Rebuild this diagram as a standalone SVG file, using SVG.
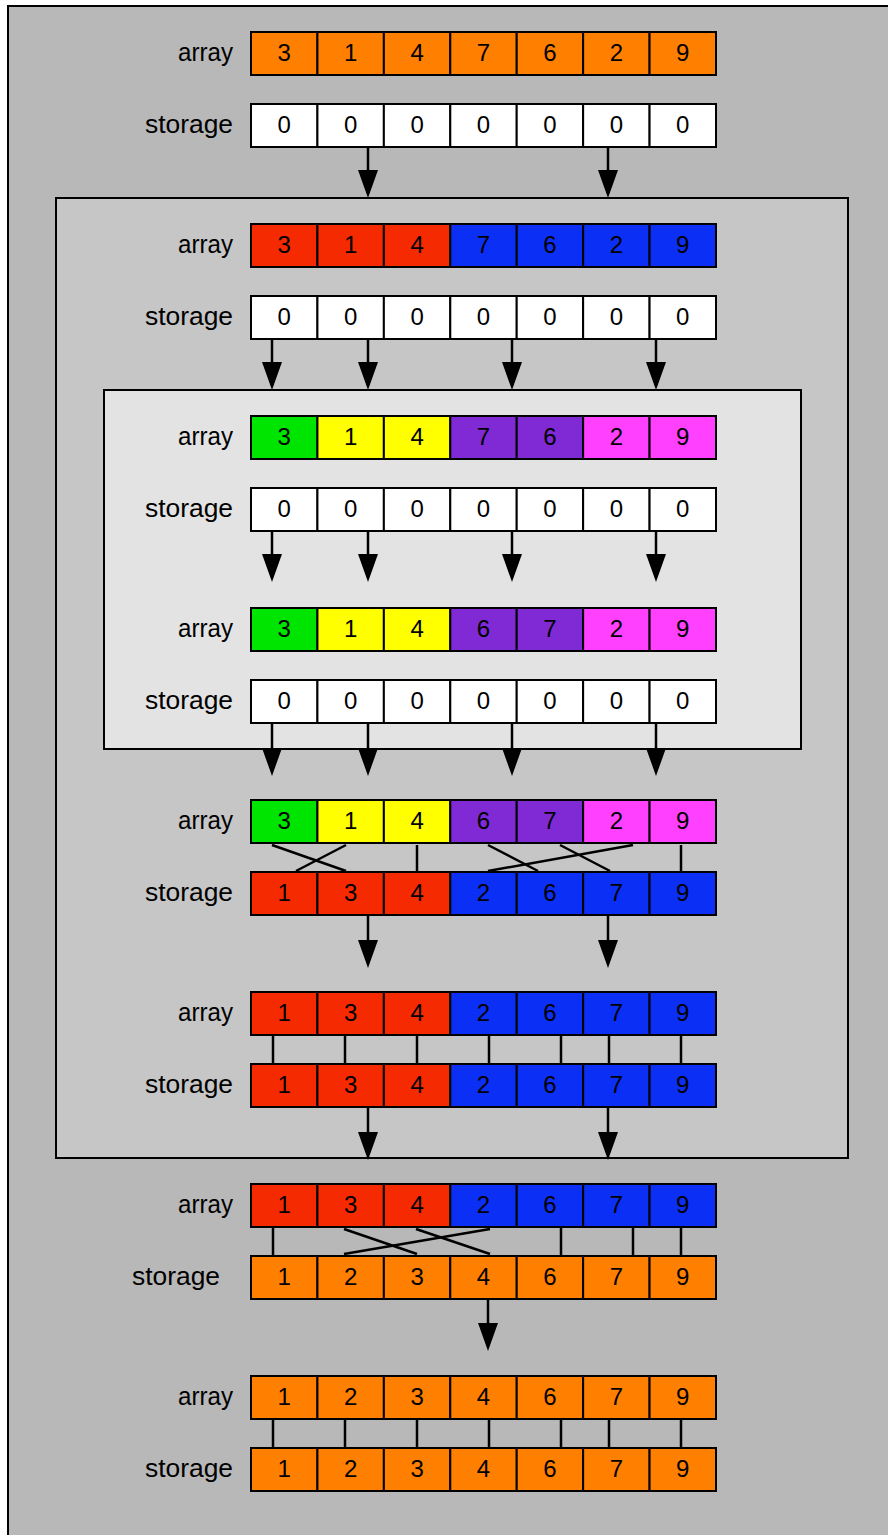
<svg xmlns="http://www.w3.org/2000/svg" width="888" height="1535" viewBox="0 0 888 1535">
<style>
.c{stroke:#000;stroke-width:2}
.o{fill:#ff7f00}.w{fill:#fff}.r{fill:#f52a00}.b{fill:#0b2ff5}.g{fill:#00e500}.y{fill:#ffff00}.p{fill:#7f2ad5}.m{fill:#ff40ff}
.v{font-family:"Liberation Sans",Arial,sans-serif;font-size:24px;text-anchor:middle;fill:#000}
.l{font-family:"Liberation Sans",Arial,sans-serif;font-size:25px;text-anchor:end;fill:#000}
.k{stroke:#000;stroke-width:2.5;fill:none}
</style>
<defs>
<marker id="ah" markerUnits="userSpaceOnUse" markerWidth="28" markerHeight="20" viewBox="0 -10 28 20" refX="0" refY="0" orient="auto"><path d="M0,-10 L28,0 L0,10 z" fill="#000"/></marker>
</defs>
<rect x="8" y="6" width="900" height="1560" fill="#b8b8b8" stroke="#000" stroke-width="2"/>
<rect id="box-level1" x="56" y="198" width="792" height="960" fill="#c6c6c6" stroke="#000" stroke-width="2"/>
<rect id="box-level2" x="104" y="390" width="697" height="359" fill="#e3e3e3" stroke="#000" stroke-width="2"/>

<g id="row-a1">
<text class="l" x="233" y="61" textLength="55" lengthAdjust="spacingAndGlyphs">array</text>
<rect class="c o" x="251" y="32" width="66.43" height="43"/><rect class="c o" x="317.43" y="32" width="66.43" height="43"/><rect class="c o" x="383.86" y="32" width="66.43" height="43"/><rect class="c o" x="450.29" y="32" width="66.43" height="43"/><rect class="c o" x="516.71" y="32" width="66.43" height="43"/><rect class="c o" x="583.14" y="32" width="66.43" height="43"/><rect class="c o" x="649.57" y="32" width="66.43" height="43"/>
<text class="v" x="284.2" y="61">3</text><text class="v" x="350.6" y="61">1</text><text class="v" x="417.1" y="61">4</text><text class="v" x="483.5" y="61">7</text><text class="v" x="549.9" y="61">6</text><text class="v" x="616.4" y="61">2</text><text class="v" x="682.8" y="61">9</text>
</g>
<g id="row-s1">
<text class="l" x="233" y="133" textLength="88" lengthAdjust="spacingAndGlyphs">storage</text>
<rect class="c w" x="251" y="104" width="66.43" height="43"/><rect class="c w" x="317.43" y="104" width="66.43" height="43"/><rect class="c w" x="383.86" y="104" width="66.43" height="43"/><rect class="c w" x="450.29" y="104" width="66.43" height="43"/><rect class="c w" x="516.71" y="104" width="66.43" height="43"/><rect class="c w" x="583.14" y="104" width="66.43" height="43"/><rect class="c w" x="649.57" y="104" width="66.43" height="43"/>
<text class="v" x="284.2" y="133">0</text><text class="v" x="350.6" y="133">0</text><text class="v" x="417.1" y="133">0</text><text class="v" x="483.5" y="133">0</text><text class="v" x="549.9" y="133">0</text><text class="v" x="616.4" y="133">0</text><text class="v" x="682.8" y="133">0</text>
</g>

<g id="row-a2">
<text class="l" x="233" y="253" textLength="55" lengthAdjust="spacingAndGlyphs">array</text>
<rect class="c r" x="251" y="224" width="66.43" height="43"/><rect class="c r" x="317.43" y="224" width="66.43" height="43"/><rect class="c r" x="383.86" y="224" width="66.43" height="43"/><rect class="c b" x="450.29" y="224" width="66.43" height="43"/><rect class="c b" x="516.71" y="224" width="66.43" height="43"/><rect class="c b" x="583.14" y="224" width="66.43" height="43"/><rect class="c b" x="649.57" y="224" width="66.43" height="43"/>
<text class="v" x="284.2" y="253">3</text><text class="v" x="350.6" y="253">1</text><text class="v" x="417.1" y="253">4</text><text class="v" x="483.5" y="253">7</text><text class="v" x="549.9" y="253">6</text><text class="v" x="616.4" y="253">2</text><text class="v" x="682.8" y="253">9</text>
</g>
<g id="row-s2">
<text class="l" x="233" y="325" textLength="88" lengthAdjust="spacingAndGlyphs">storage</text>
<rect class="c w" x="251" y="296" width="66.43" height="43"/><rect class="c w" x="317.43" y="296" width="66.43" height="43"/><rect class="c w" x="383.86" y="296" width="66.43" height="43"/><rect class="c w" x="450.29" y="296" width="66.43" height="43"/><rect class="c w" x="516.71" y="296" width="66.43" height="43"/><rect class="c w" x="583.14" y="296" width="66.43" height="43"/><rect class="c w" x="649.57" y="296" width="66.43" height="43"/>
<text class="v" x="284.2" y="325">0</text><text class="v" x="350.6" y="325">0</text><text class="v" x="417.1" y="325">0</text><text class="v" x="483.5" y="325">0</text><text class="v" x="549.9" y="325">0</text><text class="v" x="616.4" y="325">0</text><text class="v" x="682.8" y="325">0</text>
</g>

<g id="row-a3">
<text class="l" x="233" y="445" textLength="55" lengthAdjust="spacingAndGlyphs">array</text>
<rect class="c g" x="251" y="416" width="66.43" height="43"/><rect class="c y" x="317.43" y="416" width="66.43" height="43"/><rect class="c y" x="383.86" y="416" width="66.43" height="43"/><rect class="c p" x="450.29" y="416" width="66.43" height="43"/><rect class="c p" x="516.71" y="416" width="66.43" height="43"/><rect class="c m" x="583.14" y="416" width="66.43" height="43"/><rect class="c m" x="649.57" y="416" width="66.43" height="43"/>
<text class="v" x="284.2" y="445">3</text><text class="v" x="350.6" y="445">1</text><text class="v" x="417.1" y="445">4</text><text class="v" x="483.5" y="445">7</text><text class="v" x="549.9" y="445">6</text><text class="v" x="616.4" y="445">2</text><text class="v" x="682.8" y="445">9</text>
</g>
<g id="row-s3">
<text class="l" x="233" y="517" textLength="88" lengthAdjust="spacingAndGlyphs">storage</text>
<rect class="c w" x="251" y="488" width="66.43" height="43"/><rect class="c w" x="317.43" y="488" width="66.43" height="43"/><rect class="c w" x="383.86" y="488" width="66.43" height="43"/><rect class="c w" x="450.29" y="488" width="66.43" height="43"/><rect class="c w" x="516.71" y="488" width="66.43" height="43"/><rect class="c w" x="583.14" y="488" width="66.43" height="43"/><rect class="c w" x="649.57" y="488" width="66.43" height="43"/>
<text class="v" x="284.2" y="517">0</text><text class="v" x="350.6" y="517">0</text><text class="v" x="417.1" y="517">0</text><text class="v" x="483.5" y="517">0</text><text class="v" x="549.9" y="517">0</text><text class="v" x="616.4" y="517">0</text><text class="v" x="682.8" y="517">0</text>
</g>

<g id="row-a4">
<text class="l" x="233" y="637" textLength="55" lengthAdjust="spacingAndGlyphs">array</text>
<rect class="c g" x="251" y="608" width="66.43" height="43"/><rect class="c y" x="317.43" y="608" width="66.43" height="43"/><rect class="c y" x="383.86" y="608" width="66.43" height="43"/><rect class="c p" x="450.29" y="608" width="66.43" height="43"/><rect class="c p" x="516.71" y="608" width="66.43" height="43"/><rect class="c m" x="583.14" y="608" width="66.43" height="43"/><rect class="c m" x="649.57" y="608" width="66.43" height="43"/>
<text class="v" x="284.2" y="637">3</text><text class="v" x="350.6" y="637">1</text><text class="v" x="417.1" y="637">4</text><text class="v" x="483.5" y="637">6</text><text class="v" x="549.9" y="637">7</text><text class="v" x="616.4" y="637">2</text><text class="v" x="682.8" y="637">9</text>
</g>
<g id="row-s4">
<text class="l" x="233" y="709" textLength="88" lengthAdjust="spacingAndGlyphs">storage</text>
<rect class="c w" x="251" y="680" width="66.43" height="43"/><rect class="c w" x="317.43" y="680" width="66.43" height="43"/><rect class="c w" x="383.86" y="680" width="66.43" height="43"/><rect class="c w" x="450.29" y="680" width="66.43" height="43"/><rect class="c w" x="516.71" y="680" width="66.43" height="43"/><rect class="c w" x="583.14" y="680" width="66.43" height="43"/><rect class="c w" x="649.57" y="680" width="66.43" height="43"/>
<text class="v" x="284.2" y="709">0</text><text class="v" x="350.6" y="709">0</text><text class="v" x="417.1" y="709">0</text><text class="v" x="483.5" y="709">0</text><text class="v" x="549.9" y="709">0</text><text class="v" x="616.4" y="709">0</text><text class="v" x="682.8" y="709">0</text>
</g>

<g id="row-a5">
<text class="l" x="233" y="829" textLength="55" lengthAdjust="spacingAndGlyphs">array</text>
<rect class="c g" x="251" y="800" width="66.43" height="43"/><rect class="c y" x="317.43" y="800" width="66.43" height="43"/><rect class="c y" x="383.86" y="800" width="66.43" height="43"/><rect class="c p" x="450.29" y="800" width="66.43" height="43"/><rect class="c p" x="516.71" y="800" width="66.43" height="43"/><rect class="c m" x="583.14" y="800" width="66.43" height="43"/><rect class="c m" x="649.57" y="800" width="66.43" height="43"/>
<text class="v" x="284.2" y="829">3</text><text class="v" x="350.6" y="829">1</text><text class="v" x="417.1" y="829">4</text><text class="v" x="483.5" y="829">6</text><text class="v" x="549.9" y="829">7</text><text class="v" x="616.4" y="829">2</text><text class="v" x="682.8" y="829">9</text>
</g>
<g id="row-s5">
<text class="l" x="233" y="901" textLength="88" lengthAdjust="spacingAndGlyphs">storage</text>
<rect class="c r" x="251" y="872" width="66.43" height="43"/><rect class="c r" x="317.43" y="872" width="66.43" height="43"/><rect class="c r" x="383.86" y="872" width="66.43" height="43"/><rect class="c b" x="450.29" y="872" width="66.43" height="43"/><rect class="c b" x="516.71" y="872" width="66.43" height="43"/><rect class="c b" x="583.14" y="872" width="66.43" height="43"/><rect class="c b" x="649.57" y="872" width="66.43" height="43"/>
<text class="v" x="284.2" y="901">1</text><text class="v" x="350.6" y="901">3</text><text class="v" x="417.1" y="901">4</text><text class="v" x="483.5" y="901">2</text><text class="v" x="549.9" y="901">6</text><text class="v" x="616.4" y="901">7</text><text class="v" x="682.8" y="901">9</text>
</g>

<g id="row-a6">
<text class="l" x="233" y="1021" textLength="55" lengthAdjust="spacingAndGlyphs">array</text>
<rect class="c r" x="251" y="992" width="66.43" height="43"/><rect class="c r" x="317.43" y="992" width="66.43" height="43"/><rect class="c r" x="383.86" y="992" width="66.43" height="43"/><rect class="c b" x="450.29" y="992" width="66.43" height="43"/><rect class="c b" x="516.71" y="992" width="66.43" height="43"/><rect class="c b" x="583.14" y="992" width="66.43" height="43"/><rect class="c b" x="649.57" y="992" width="66.43" height="43"/>
<text class="v" x="284.2" y="1021">1</text><text class="v" x="350.6" y="1021">3</text><text class="v" x="417.1" y="1021">4</text><text class="v" x="483.5" y="1021">2</text><text class="v" x="549.9" y="1021">6</text><text class="v" x="616.4" y="1021">7</text><text class="v" x="682.8" y="1021">9</text>
</g>
<g id="row-s6">
<text class="l" x="233" y="1093" textLength="88" lengthAdjust="spacingAndGlyphs">storage</text>
<rect class="c r" x="251" y="1064" width="66.43" height="43"/><rect class="c r" x="317.43" y="1064" width="66.43" height="43"/><rect class="c r" x="383.86" y="1064" width="66.43" height="43"/><rect class="c b" x="450.29" y="1064" width="66.43" height="43"/><rect class="c b" x="516.71" y="1064" width="66.43" height="43"/><rect class="c b" x="583.14" y="1064" width="66.43" height="43"/><rect class="c b" x="649.57" y="1064" width="66.43" height="43"/>
<text class="v" x="284.2" y="1093">1</text><text class="v" x="350.6" y="1093">3</text><text class="v" x="417.1" y="1093">4</text><text class="v" x="483.5" y="1093">2</text><text class="v" x="549.9" y="1093">6</text><text class="v" x="616.4" y="1093">7</text><text class="v" x="682.8" y="1093">9</text>
</g>

<g id="row-a7">
<text class="l" x="233" y="1213" textLength="55" lengthAdjust="spacingAndGlyphs">array</text>
<rect class="c r" x="251" y="1184" width="66.43" height="43"/><rect class="c r" x="317.43" y="1184" width="66.43" height="43"/><rect class="c r" x="383.86" y="1184" width="66.43" height="43"/><rect class="c b" x="450.29" y="1184" width="66.43" height="43"/><rect class="c b" x="516.71" y="1184" width="66.43" height="43"/><rect class="c b" x="583.14" y="1184" width="66.43" height="43"/><rect class="c b" x="649.57" y="1184" width="66.43" height="43"/>
<text class="v" x="284.2" y="1213">1</text><text class="v" x="350.6" y="1213">3</text><text class="v" x="417.1" y="1213">4</text><text class="v" x="483.5" y="1213">2</text><text class="v" x="549.9" y="1213">6</text><text class="v" x="616.4" y="1213">7</text><text class="v" x="682.8" y="1213">9</text>
</g>
<g id="row-s7">
<text class="l" x="220" y="1285" textLength="88" lengthAdjust="spacingAndGlyphs">storage</text>
<rect class="c o" x="251" y="1256" width="66.43" height="43"/><rect class="c o" x="317.43" y="1256" width="66.43" height="43"/><rect class="c o" x="383.86" y="1256" width="66.43" height="43"/><rect class="c o" x="450.29" y="1256" width="66.43" height="43"/><rect class="c o" x="516.71" y="1256" width="66.43" height="43"/><rect class="c o" x="583.14" y="1256" width="66.43" height="43"/><rect class="c o" x="649.57" y="1256" width="66.43" height="43"/>
<text class="v" x="284.2" y="1285">1</text><text class="v" x="350.6" y="1285">2</text><text class="v" x="417.1" y="1285">3</text><text class="v" x="483.5" y="1285">4</text><text class="v" x="549.9" y="1285">6</text><text class="v" x="616.4" y="1285">7</text><text class="v" x="682.8" y="1285">9</text>
</g>

<g id="row-a8">
<text class="l" x="233" y="1405" textLength="55" lengthAdjust="spacingAndGlyphs">array</text>
<rect class="c o" x="251" y="1376" width="66.43" height="43"/><rect class="c o" x="317.43" y="1376" width="66.43" height="43"/><rect class="c o" x="383.86" y="1376" width="66.43" height="43"/><rect class="c o" x="450.29" y="1376" width="66.43" height="43"/><rect class="c o" x="516.71" y="1376" width="66.43" height="43"/><rect class="c o" x="583.14" y="1376" width="66.43" height="43"/><rect class="c o" x="649.57" y="1376" width="66.43" height="43"/>
<text class="v" x="284.2" y="1405">1</text><text class="v" x="350.6" y="1405">2</text><text class="v" x="417.1" y="1405">3</text><text class="v" x="483.5" y="1405">4</text><text class="v" x="549.9" y="1405">6</text><text class="v" x="616.4" y="1405">7</text><text class="v" x="682.8" y="1405">9</text>
</g>
<g id="row-s8">
<text class="l" x="233" y="1477" textLength="88" lengthAdjust="spacingAndGlyphs">storage</text>
<rect class="c o" x="251" y="1448" width="66.43" height="43"/><rect class="c o" x="317.43" y="1448" width="66.43" height="43"/><rect class="c o" x="383.86" y="1448" width="66.43" height="43"/><rect class="c o" x="450.29" y="1448" width="66.43" height="43"/><rect class="c o" x="516.71" y="1448" width="66.43" height="43"/><rect class="c o" x="583.14" y="1448" width="66.43" height="43"/><rect class="c o" x="649.57" y="1448" width="66.43" height="43"/>
<text class="v" x="284.2" y="1477">1</text><text class="v" x="350.6" y="1477">2</text><text class="v" x="417.1" y="1477">3</text><text class="v" x="483.5" y="1477">4</text><text class="v" x="549.9" y="1477">6</text><text class="v" x="616.4" y="1477">7</text><text class="v" x="682.8" y="1477">9</text>
</g>

<g id="connectors">
<g marker-end="url(#ah)" class="k">
<line x1="368" y1="148" x2="368" y2="170"/><line x1="608" y1="148" x2="608" y2="170"/>
<line x1="272" y1="340" x2="272" y2="362"/><line x1="368" y1="340" x2="368" y2="362"/><line x1="512" y1="340" x2="512" y2="362"/><line x1="656" y1="340" x2="656" y2="362"/>
<line x1="272" y1="532" x2="272" y2="554"/><line x1="368" y1="532" x2="368" y2="554"/><line x1="512" y1="532" x2="512" y2="554"/><line x1="656" y1="532" x2="656" y2="554"/>
<line x1="272" y1="724" x2="272" y2="748"/><line x1="368" y1="724" x2="368" y2="748"/><line x1="512" y1="724" x2="512" y2="748"/><line x1="656" y1="724" x2="656" y2="748"/>
<line x1="368" y1="916" x2="368" y2="940"/><line x1="608" y1="916" x2="608" y2="940"/>
<line x1="368" y1="1108" x2="368" y2="1132"/><line x1="608" y1="1108" x2="608" y2="1132"/>
<line x1="488" y1="1300" x2="488" y2="1323"/>
</g>
<g class="k">
<line x1="272" y1="845" x2="346" y2="871"/><line x1="346" y1="845" x2="296" y2="871"/><line x1="417" y1="845" x2="417" y2="871"/>
<line x1="488" y1="845" x2="538" y2="871"/><line x1="560" y1="845" x2="610" y2="871"/><line x1="633" y1="845" x2="488" y2="871"/><line x1="681" y1="845" x2="681" y2="871"/>
<line x1="273" y1="1036" x2="273" y2="1063"/><line x1="345" y1="1036" x2="345" y2="1063"/><line x1="417" y1="1036" x2="417" y2="1063"/><line x1="489" y1="1036" x2="489" y2="1063"/><line x1="561" y1="1036" x2="561" y2="1063"/><line x1="609" y1="1036" x2="609" y2="1063"/><line x1="681" y1="1036" x2="681" y2="1063"/>
<line x1="273" y1="1228" x2="273" y2="1255"/><line x1="344" y1="1229" x2="417" y2="1254"/><line x1="416" y1="1229" x2="490" y2="1254"/><line x1="490" y1="1229" x2="344" y2="1254"/><line x1="561" y1="1228" x2="561" y2="1255"/><line x1="633" y1="1228" x2="633" y2="1255"/><line x1="681" y1="1228" x2="681" y2="1255"/>
<line x1="273" y1="1420" x2="273" y2="1447"/><line x1="345" y1="1420" x2="345" y2="1447"/><line x1="417" y1="1420" x2="417" y2="1447"/><line x1="489" y1="1420" x2="489" y2="1447"/><line x1="561" y1="1420" x2="561" y2="1447"/><line x1="609" y1="1420" x2="609" y2="1447"/><line x1="681" y1="1420" x2="681" y2="1447"/>
</g>
</g>
</svg>
